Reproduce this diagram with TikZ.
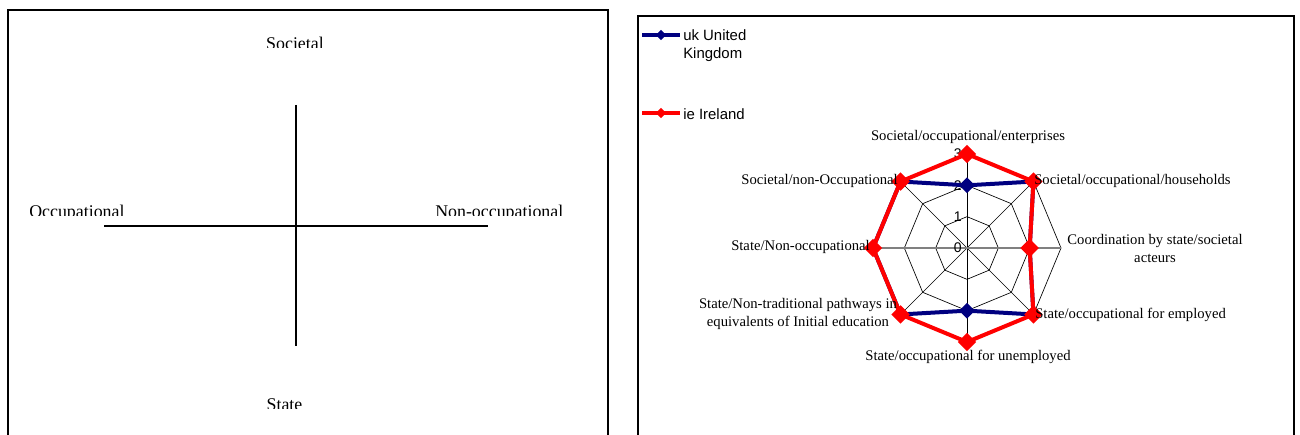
\documentclass[tikz,border=0pt]{standalone}
\usepackage{fontspec}
\setmainfont{Liberation Serif}
\setsansfont{Liberation Sans}
\usetikzlibrary{shapes.geometric}
\definecolor{ukblue}{HTML}{000080}
\definecolor{iered}{HTML}{FF0000}
\begin{document}
\begin{tikzpicture}[x=0.75pt,y=-0.75pt,
  frame/.style={draw=black,line width=1.5pt},
  crossline/.style={draw=black,line width=1.5pt},
  quadlabel/.style={font=\fontsize{13.4}{15}\selectfont,inner sep=0pt},
  legendtext/.style={font=\sffamily\fontsize{11.2}{13}\selectfont,inner sep=0pt},
  axislabel/.style={font=\fontsize{11}{13.5}\selectfont,inner sep=0pt,align=center},
  ticklabel/.style={font=\sffamily\fontsize{10.5}{11}\selectfont,inner sep=0pt},
  ring/.style={draw=black,line width=0.5pt},
  spoke/.style={draw=black,line width=0.5pt},
  hspoke/.style={draw=black!50,line width=1.5pt},
  ukline/.style={draw=ukblue,line width=3pt,line join=round},
  ieline/.style={draw=iered,line width=3pt,line join=round},
  ukmark/.style={diamond,fill=ukblue,inner sep=0pt,minimum width=12pt,minimum height=12pt},
  iemark/.style={diamond,fill=iered,inner sep=0pt,minimum width=14pt,minimum height=14pt},
  ukkey/.style={diamond,fill=ukblue,inner sep=0pt,minimum width=8pt,minimum height=8pt},
  iekey/.style={diamond,fill=iered,inner sep=0pt,minimum width=8pt,minimum height=8pt}]
\useasboundingbox (0,0) rectangle (1300,435);
\fill[white] (0,0) rectangle (1300,435);

% ---------- left panel: the two dimensions ----------
\draw[frame] (8,440) -- (8,10) -- (607.5,10) -- (607.5,440);

\begin{scope}
  \clip (200,30) rectangle (400,47.5);
  \node[quadlabel,anchor=base] (societal) at (295,49.5) {Societal};
\end{scope}
\begin{scope}
  \clip (20,195) rectangle (140,215.7);
  \node[quadlabel,anchor=base west] (occ) at (29,217.7) {Occupational};
\end{scope}
\begin{scope}
  \clip (420,195) rectangle (590,215.7);
  \node[quadlabel,anchor=base west] (nonocc) at (435,217.7) {Non-occupational};
\end{scope}
\begin{scope}
  \clip (240,390) rectangle (340,408.3);
  \node[quadlabel,anchor=base] (state) at (284.5,410.3) {State};
\end{scope}

\coordinate (vtop) at (296,105);
\coordinate (vbot) at (296,346);
\coordinate (hleft) at (104,226);
\coordinate (hright) at (488,226);
\draw[crossline] (vtop) -- (vbot);
\draw[crossline] (hleft) -- (hright);

% ---------- right panel: radar chart ----------
\draw[draw=black,line width=1.2pt] (638,440) -- (638,16) -- (1294,16) -- (1294,440);

% legend
\coordinate (ukA) at (642,35);
\coordinate (ukB) at (680,35);
\draw[ukline] (ukA) -- (ukB);
\node[ukkey] (ukkeymark) at (661,35) {};
\node[legendtext,anchor=base west] (uktext) at (683,41) {uk United};
\node[legendtext,anchor=base west] (uktext2) at (683,59) {Kingdom};

\coordinate (ieA) at (642,113);
\coordinate (ieB) at (680,113);
\draw[ieline] (ieA) -- (ieB);
\node[iekey] (iekeymark) at (661,113) {};
\node[legendtext,anchor=base west] (ietext) at (683,119) {ie Ireland};

\begin{scope}[shift={(967,248)}]
  % rings (one unit = 31.33)
  \foreach \r in {31.33,62.67,94} {
    \draw[ring] (0:\r) -- (45:\r) -- (90:\r) -- (135:\r) -- (180:\r)
      -- (225:\r) -- (270:\r) -- (315:\r) -- cycle;
  }
  % spokes
  \foreach \a in {45,90,135,225,270,315} {
    \draw[spoke] (0,0) -- (\a:94);
  }
  \draw[hspoke] (180:94) -- (0:94);

  % tick labels
  \node[ticklabel,anchor=east] (t0) at (-5,0) {0};
  \node[ticklabel,anchor=east] (t1) at (-5,-31.33) {1};
  \node[ticklabel,anchor=east] (t2) at (-5,-62.67) {2};
  \node[ticklabel,anchor=east] (t3) at (-5,-94) {3};

  % United Kingdom scores
  \coordinate (u1) at (-90:62.67);
  \coordinate (u2) at (-45:94);
  \coordinate (u3) at (0:62.67);
  \coordinate (u4) at (45:94);
  \coordinate (u5) at (90:62.67);
  \coordinate (u6) at (135:94);
  \coordinate (u7) at (180:94);
  \coordinate (u8) at (225:94);
  \draw[ukline] (u1) -- (u2) -- (u3) -- (u4) -- (u5) -- (u6) -- (u7) -- (u8) -- cycle;
  \foreach \p in {u1,u2,u3,u4,u5,u6,u7,u8} {
    \node[ukmark] at (\p) {};
  }

  % Ireland scores
  \coordinate (i1) at (-90:94);
  \coordinate (i2) at (-45:94);
  \coordinate (i3) at (0:62.67);
  \coordinate (i4) at (45:94);
  \coordinate (i5) at (90:94);
  \coordinate (i6) at (135:94);
  \coordinate (i7) at (180:94);
  \coordinate (i8) at (225:94);
  \draw[ieline] (i1) -- (i2) -- (i3) -- (i4) -- (i5) -- (i6) -- (i7) -- (i8) -- cycle;
  \foreach \p in {i1,i2,i3,i4,i5,i6,i7,i8} {
    \node[iemark] at (\p) {};
  }
\end{scope}

% axis labels
\node[axislabel] (lab1) at (968,137) {Societal/occupational/enterprises};
\node[axislabel,anchor=west] (lab2) at (1034,181) {Societal/occupational/households};
\node[axislabel] (lab3) at (1155,248) {Coordination by state/societal\\acteurs};
\node[axislabel,anchor=west] (lab4) at (1035,315) {State/occupational for employed};
\node[axislabel] (lab5) at (968,357) {State/occupational for unemployed};
\node[axislabel] (lab6) at (798,314) {State/Non-traditional pathways in\\equivalents of Initial education};
\node[axislabel,anchor=east] (lab7) at (870,247) {State/Non-occupational};
\node[axislabel,anchor=east] (lab8) at (898,181) {Societal/non-Occupational};
\end{tikzpicture}
\end{document}
